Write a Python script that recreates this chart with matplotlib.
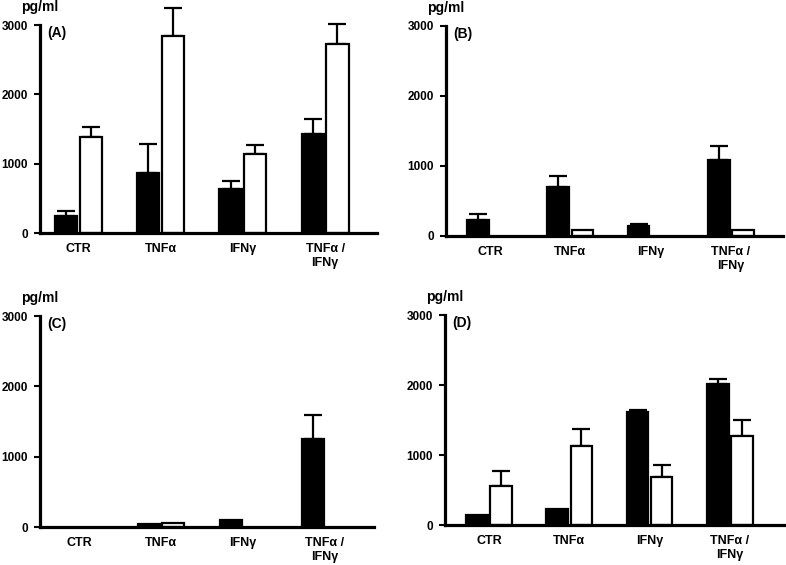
import numpy as np
import matplotlib
matplotlib.use("Agg")
import matplotlib.pyplot as plt

plt.rcParams['font.family'] = ['Liberation Sans', 'DejaVu Sans']
plt.rcParams['font.weight'] = 'bold'

groups = ['CTR', 'TNFα', 'IFNγ', 'TNFα /\nIFNγ']
panels = ['(A)', '(B)', '(C)', '(D)']

# mean values (pg/ml), filled = black bars, open = white bars
a_black = [240, 865, 640, 1433]
a_black_err = [72, 423, 115, 211]
a_white = [1385, 2846, 1140, 2731]
a_white_err = [139, 404, 124, 288]

b_black = [229, 705, 143, 1086]
b_black_err = [81, 157, 33, 200]
b_white = [0, 86, 0, 86]
b_white_err = [0, 0, 0, 0]

c_black = [0, 47, 95, 1251]
c_black_err = [0, 0, 0, 337]
c_white = [0, 57, 0, 0]
c_white_err = [0, 0, 0, 0]

d_black = [138, 224, 1610, 2019]
d_black_err = [0, 0, 38, 71]
d_white = [562, 1133, 681, 1267]
d_white_err = [209, 238, 176, 233]

data = [
    (a_black, a_black_err, a_white, a_white_err),
    (b_black, b_black_err, b_white, b_white_err),
    (c_black, c_black_err, c_white, c_white_err),
    (d_black, d_black_err, d_white, d_white_err),
]

W, H = 786, 565
# pixel layout: spine x, axis end x, zero y, px per 1000, first group centre, group spacing
layout = [
    (40, 377, 233, 69.3, 78.5, 82.2),
    (446, 783, 236, 70.0, 490, 80.3),
    (40, 374, 527, 70.3, 79, 82.0),
    (445, 785, 525, 70.0, 489, 80.3),
]
ytop = 3300

fig = plt.figure(figsize=(W / 100, H / 100), dpi=100)

x = np.arange(len(groups))
bw = 0.27
off = 0.15

for (blk, blk_err, wht, wht_err), (x0, x1, y0, ppk, c0, sp), lab in zip(data, layout, panels):
    top = y0 - ytop / 1000 * ppk
    ax = fig.add_axes([x0 / W, (H - y0) / H, (x1 - x0) / W, (y0 - top) / H])
    ax.set_xlim((x0 - c0) / sp, (x1 - c0) / sp)
    ax.set_ylim(0, ytop)

    for xs, vals, errs, col in ((x - off, blk, blk_err, 'black'), (x + off, wht, wht_err, 'white')):
        vals = np.array(vals, float)
        errs = np.array(errs, float)
        nz = vals > 0
        ax.bar(xs[nz], vals[nz], bw, color=col, edgecolor='black', linewidth=1.6, zorder=2)
        m = errs > 0
        if m.any():
            ax.errorbar(xs[m], vals[m], yerr=[np.zeros(m.sum()), errs[m]], fmt='none',
                        ecolor='black', elinewidth=1.6, capsize=6.5, capthick=1.6, zorder=1)

    for s in ['top', 'right']:
        ax.spines[s].set_visible(False)
    ax.spines['left'].set_bounds(0, 3000)
    ax.spines['left'].set_linewidth(2.3)
    ax.spines['bottom'].set_linewidth(2.3)
    ax.spines['bottom'].set_zorder(3)

    ax.set_yticks([0, 1000, 2000, 3000])
    ax.tick_params(axis='y', length=4.5, width=1.5, pad=4, labelsize=8.5)
    ax.set_xticks(x)
    ax.set_xticklabels(groups, fontsize=9, linespacing=1.25)
    ax.tick_params(axis='x', length=0, pad=7)

    ax.text(0, 3000 + 18 / ppk * 1000, 'pg/ml', transform=ax.get_yaxis_transform(),
            ha='center', va='center', fontsize=10, clip_on=False)
    ax.annotate(lab, xy=(0, 3000), xycoords=ax.get_yaxis_transform(),
                xytext=(5, -1), textcoords='offset points', ha='left', va='top', fontsize=10)

fig.savefig('out.png', dpi=100)
